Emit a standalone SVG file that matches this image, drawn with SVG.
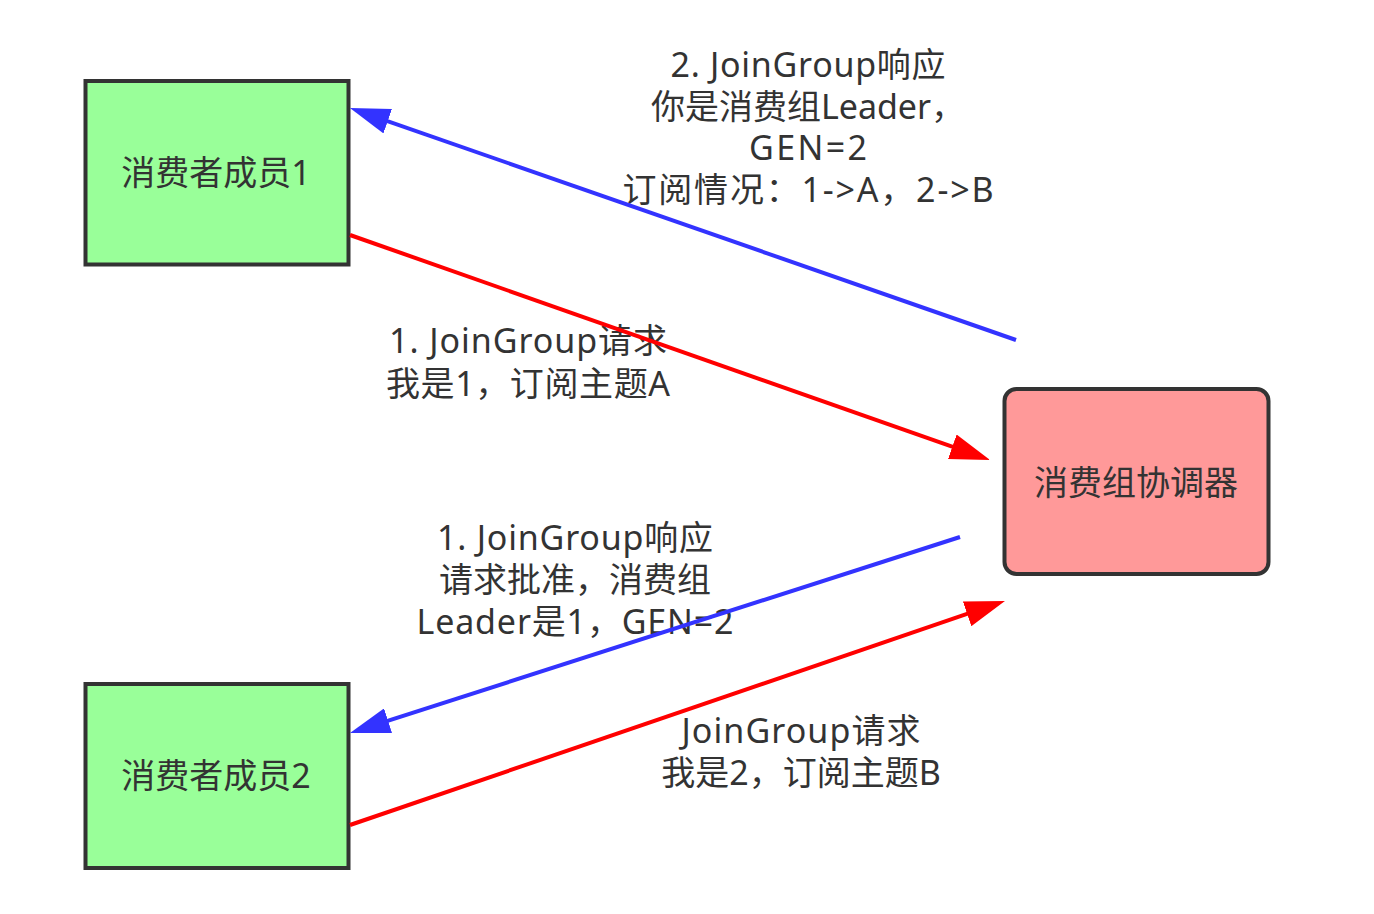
<svg xmlns="http://www.w3.org/2000/svg" width="1374" height="914" viewBox="0 0 1374 914">
  <style>
    .node { stroke: #333333; stroke-width: 4; }
    .member { fill: #99ff99; }
    .coord { fill: #ff9999; }
    .txt { font-family: "Noto Sans", "Noto Sans CJK SC", sans-serif; font-size: 34px; fill: #333333; text-anchor: middle; }
    .edge { fill: none; stroke-width: 4; }
    .blue { stroke: #3333ff; }
    .red { stroke: #ff0000; }
  </style>
  <defs>
    <marker id="arrowBlue" markerUnits="userSpaceOnUse" markerWidth="40" markerHeight="26" refX="30" refY="13" orient="auto" viewBox="0 0 40 26">
      <path d="M0,0 L40,13 L0,26 Z" fill="#3333ff"/>
    </marker>
    <marker id="arrowRed" markerUnits="userSpaceOnUse" markerWidth="40" markerHeight="26" refX="30" refY="13" orient="auto" viewBox="0 0 40 26">
      <path d="M0,0 L40,13 L0,26 Z" fill="#ff0000"/>
    </marker>
  </defs>
  <rect width="1374" height="914" fill="#ffffff"/>

  <g id="member1">
    <rect class="node member" x="85.5" y="81" width="263" height="183.5"/>
    <text class="txt" x="216" y="185">消费者成员1</text>
  </g>
  <g id="member2">
    <rect class="node member" x="85.5" y="684" width="263" height="184"/>
    <text class="txt" x="216" y="788">消费者成员2</text>
  </g>
  <g id="coordinator">
    <rect class="node coord" x="1004.5" y="389" width="264" height="185" rx="12" ry="12"/>
    <text class="txt" x="1136" y="495">消费组协调器</text>
  </g>

  <g id="labels">
    <g id="label-response-leader">
      <text class="txt" x="808" y="77" textLength="275" lengthAdjust="spacing">2. JoinGroup响应</text>
      <text class="txt" x="808" y="119">你是消费组Leader，</text>
      <text class="txt" x="808" y="160" textLength="118" lengthAdjust="spacing">GEN=2</text>
      <text class="txt" x="808" y="202" textLength="371" lengthAdjust="spacing">订阅情况：1-&gt;A，2-&gt;B</text>
    </g>
    <g id="label-request-1">
      <text class="txt" x="528" y="353" textLength="278" lengthAdjust="spacing">1. JoinGroup请求</text>
      <text class="txt" x="528" y="396" textLength="284" lengthAdjust="spacing">我是1，订阅主题A</text>
    </g>
    <g id="label-response-2">
      <text class="txt" x="575" y="550" textLength="276" lengthAdjust="spacing">1. JoinGroup响应</text>
      <text class="txt" x="575" y="592">请求批准，消费组</text>
      <text class="txt" x="575" y="634" textLength="317" lengthAdjust="spacing">Leader是1，GEN=2</text>
    </g>
    <g id="label-request-2">
      <text class="txt" x="801" y="743" textLength="239" lengthAdjust="spacing">JoinGroup请求</text>
      <text class="txt" x="801" y="785">我是2，订阅主题B</text>
    </g>
  </g>

  <g id="connectors">
    <path class="edge blue" d="M1016,340 L359.4,111.3" marker-end="url(#arrowBlue)"/>
    <path class="edge red" d="M350,235 L980.6,456.7" marker-end="url(#arrowRed)"/>
    <path class="edge blue" d="M960,537 L359.5,729.9" marker-end="url(#arrowBlue)"/>
    <path class="edge red" d="M350,825 L995.5,604.2" marker-end="url(#arrowRed)"/>
  </g>
</svg>
